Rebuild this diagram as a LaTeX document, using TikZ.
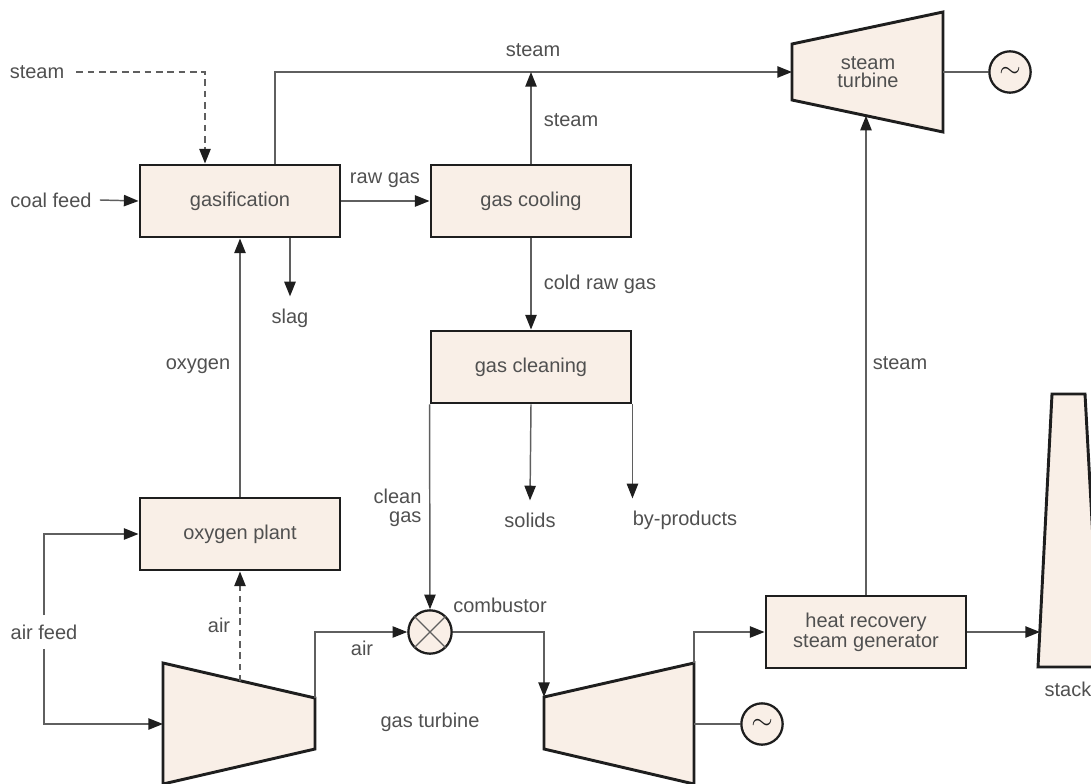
\documentclass[tikz,border=0pt]{standalone}
\usepackage{fontspec}
\setmainfont{Liberation Sans}
\usetikzlibrary{arrows.meta,calc}
\definecolor{boxfill}{RGB}{249,239,231}
\definecolor{txt}{RGB}{80,80,80}
\definecolor{ln}{RGB}{95,95,95}
\definecolor{edge}{RGB}{30,30,30}
\begin{document}
\begin{tikzpicture}[x=0.75pt,y=-0.75pt,
  lbl/.style={text=txt,font=\fontsize{15}{17}\selectfont,inner sep=1pt},
  proc/.style={draw=edge,line width=2.2pt,fill=boxfill,minimum width=150pt,minimum height=54pt,inner sep=0pt,text=txt,font=\fontsize{15}{17}\selectfont,align=center},
  flow/.style={draw=ln,line width=1.1pt,-{Triangle[length=11pt,width=8.5pt,color=edge]}},
  plain/.style={draw=ln,line width=1.1pt},
  dashline/.style={dash pattern=on 5pt off 3.5pt},
  machine/.style={draw=edge,line width=2.2pt,fill=boxfill,line join=miter},
  gen/.style={circle,draw=edge,line width=1.7pt,fill=boxfill,minimum size=31pt,inner sep=0pt,text=edge}
]
\useasboundingbox (0,0) rectangle (1091,784);
\clip (0,0) rectangle (1091,784);

% process boxes
\node[proc] (gas)   at (240,201) {gasification};
\node[proc] (cool)  at (531,201) {gas cooling};
\node[proc] (clean) at (531,367) {gas cleaning};
\node[proc] (oxy)   at (240,534) {oxygen plant};
\node[proc] (hrsg) at (866,632) {heat recovery\\[-2pt]steam generator};

% steam turbine
\coordinate (sA) at (792,44);
\coordinate (sB) at (943,12);
\coordinate (sC) at (943,132);
\coordinate (sD) at (792,100);
\coordinate (sIn) at (792,72);
\coordinate (sOut) at (943,72);
\coordinate (sBot) at ($(sD)!0.49!(sC)$);
\draw[machine] (sA) -- (sB) -- (sC) -- (sD) -- cycle;
\node[lbl,align=center] (stlab) at (868,72) {steam\\[-3pt]turbine};

% compressor
\coordinate (cA) at (163,663);
\coordinate (cB) at (315,698);
\coordinate (cC) at (315,749);
\coordinate (cD) at (163,784);
\coordinate (cIn) at (163,724);
\coordinate (cTop) at ($(cA)!0.5!(cB)$);
\draw[machine] (cA) -- (cB) -- (cC) -- (cD) -- cycle;

% gas turbine
\coordinate (tA) at (544,697);
\coordinate (tB) at (694,663);
\coordinate (tC) at (694,784);
\coordinate (tD) at (544,749);
\coordinate (tOut) at (694,724);
\draw[machine] (tA) -- (tB) -- (tC) -- (tD) -- cycle;

% stack
\coordinate (kA) at (1052,394);
\coordinate (kB) at (1085,394);
\coordinate (kC) at (1100,667);
\coordinate (kD) at (1038,667);
\coordinate (kIn) at (1040,632);
\draw[machine] (kA) -- (kB) -- (kC) -- (kD) -- cycle;

% combustor and generators
\node[circle,draw=edge,line width=1.7pt,fill=boxfill,minimum size=32.5pt,inner sep=0pt] (comb) at (430,632) {};
\draw[ln,line width=0.9pt] (comb.45) -- (comb.225) (comb.135) -- (comb.315);
\node[gen] (gen1) at (1010,72) {\fontsize{22}{22}\selectfont$\sim$};
\node[gen] (gen2) at (762,724) {\fontsize{22}{22}\selectfont$\sim$};

% labels
\node[lbl] (steamL) at (37,72) {steam};
\node[lbl] (coal) at (51,200) {coal feed};
\node[lbl] at (385,180) {raw gas};
\node[lbl] (slag) at (290,318) {slag};
\node[lbl] at (533,50) {steam};
\node[lbl] at (571,120) {steam};
\node[lbl] at (600,284) {cold raw gas};
\node[lbl] at (198,366) {oxygen};
\node[lbl,align=right,anchor=east] at (423,508) {clean\\[-3pt]gas};
\node[lbl] (solids) at (530,520) {solids};
\node[lbl] (byp) at (685,520) {by-products};
\node[lbl] at (500,605) {combustor};
\node[lbl] at (219,625) {air};
\node[lbl] at (362,648) {air};
\node[lbl,inner ysep=7pt] (airfeed) at (44,632) {air feed};
\node[lbl] at (430,722) {gas turbine};
\node[lbl] at (900,363) {steam};
\node[lbl,anchor=west] at (1043,689) {stack};

% connectors
\draw[flow,dashline] ([xshift=8pt]steamL.east) -| ([shift={(-35,0)}]gas.north);
\draw[flow] ([xshift=5pt]coal.east) -- (gas.west);
\draw[flow] ([shift={(35,0)}]gas.north) |- (sIn);
\draw[flow] (cool.north) -- (cool.north |- sIn);
\draw[flow] (gas.east) -- (cool.west);
\draw[flow] (gas.south -| slag.north) -- ([yshift=8pt]slag.north);
\draw[flow] (oxy.north) -- (gas.south);
\draw[flow] (cool.south) -- (clean.north);
\draw[flow] (clean.south west) -- (comb.north);
\draw[flow] (clean.south) -- ([yshift=8pt]solids.north);
\draw[flow] (clean.south east) -- ([yshift=8pt]byp.north -| clean.south east);
\draw[flow,dashline] (cTop) -- (oxy.south |- cTop) -- (oxy.south);
\draw[flow] (cB) |- (comb.west);
\draw[flow] (airfeed.north) |- (oxy.west);
\draw[flow] (airfeed.south) |- (cIn);
\draw[flow] (comb.east) -| (tA);
\draw[plain] (tOut) -- (gen2.west);
\draw[flow] (tB) |- (hrsg.west);
\draw[flow] (hrsg.east) -- (kIn);
\draw[flow] (hrsg.north) -- (hrsg.north |- sBot);
\draw[plain] (sOut) -- (gen1.west);
\end{tikzpicture}
\end{document}
